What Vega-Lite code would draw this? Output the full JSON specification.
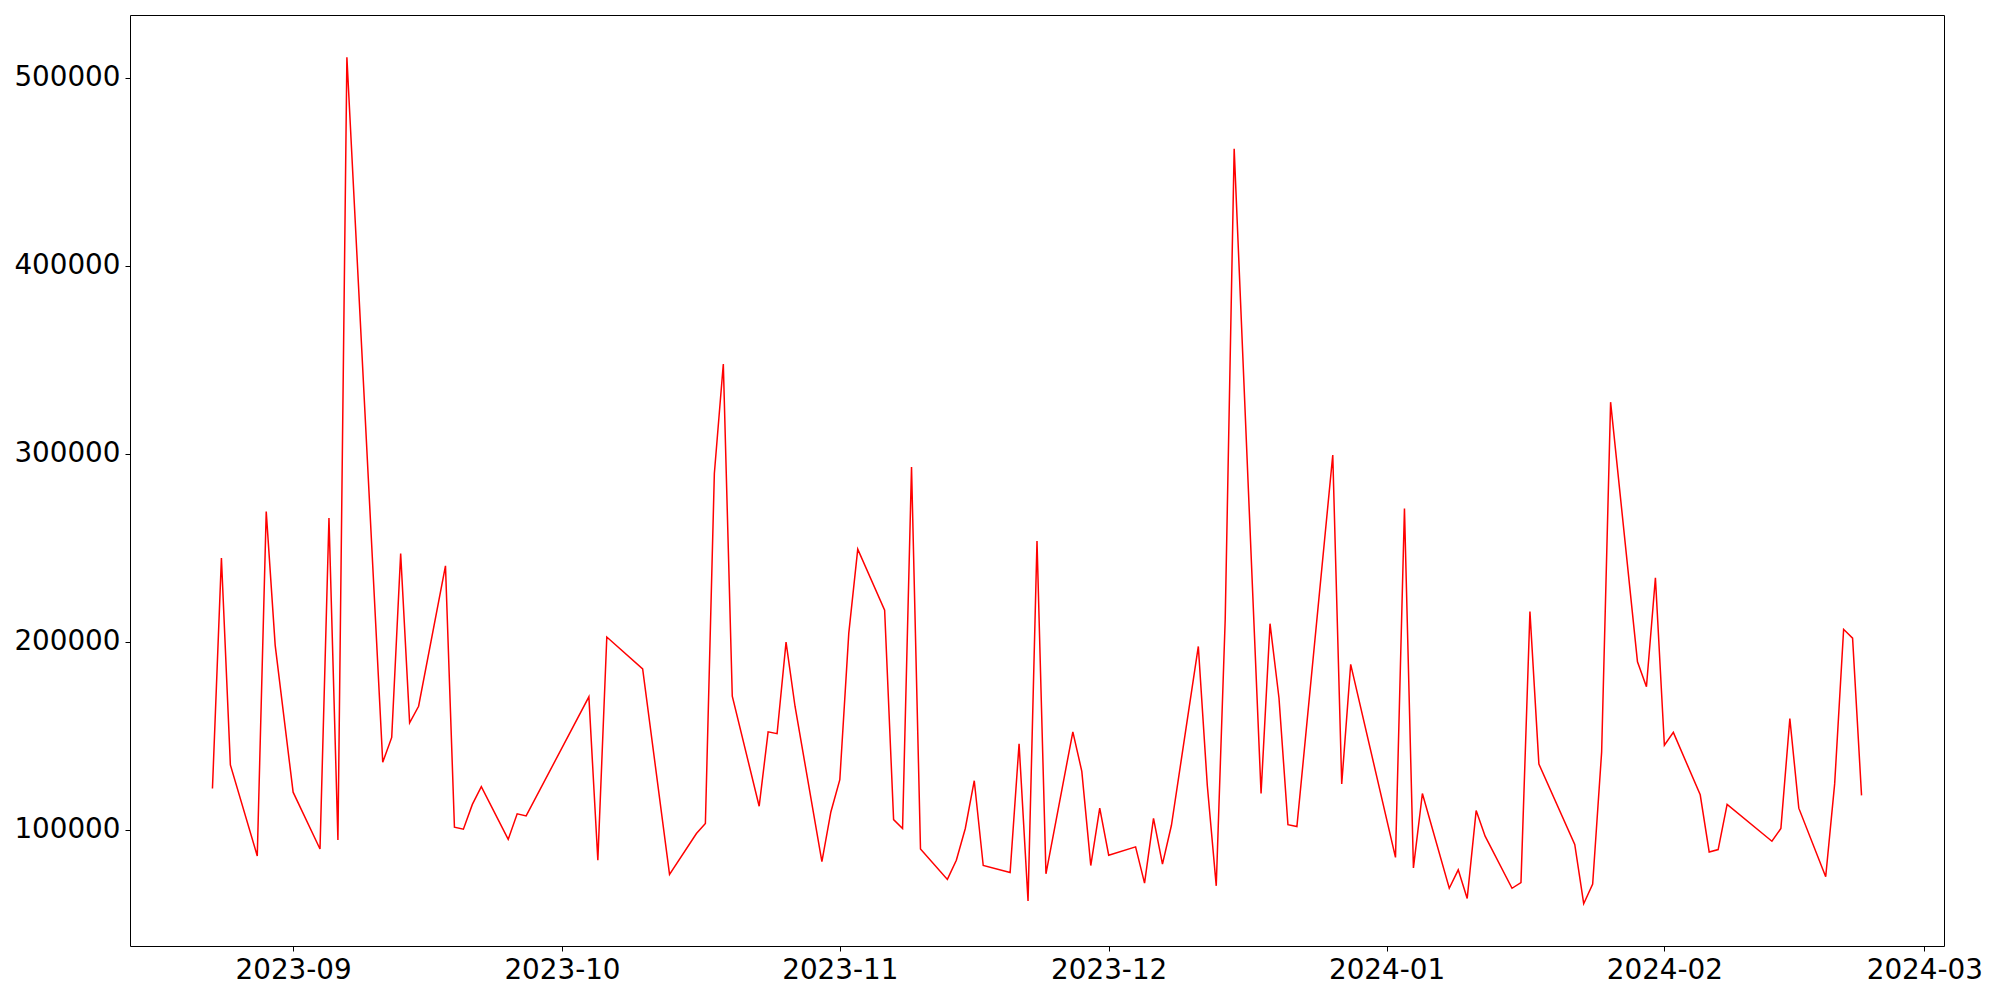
{
  "$schema": "https://vega.github.io/schema/vega-lite/v6.json",
  "autosize": {"type": "none"},
  "padding": {"left": 130, "top": 15, "right": 56, "bottom": 54},
  "width": 1814,
  "height": 931,
  "background": "white",
  "config": {
    "view": {"stroke": "black", "strokeWidth": 1},
    "font": "DejaVu Sans",
    "axis": {
      "grid": false,
      "domain": false,
      "tickColor": "black",
      "tickSize": 5,
      "tickWidth": 1,
      "labelColor": "black",
      "labelFont": "DejaVu Sans",
      "labelFontSize": 27.8,
      "labelPadding": 5,
      "title": null
    }
  },
  "data": {
    "values": [
      {"date": "2023-08-23", "value": 122000},
      {"date": "2023-08-24", "value": 244500},
      {"date": "2023-08-25", "value": 134500},
      {"date": "2023-08-28", "value": 86100},
      {"date": "2023-08-29", "value": 269200},
      {"date": "2023-08-30", "value": 198100},
      {"date": "2023-09-01", "value": 120000},
      {"date": "2023-09-04", "value": 89800},
      {"date": "2023-09-05", "value": 265800},
      {"date": "2023-09-06", "value": 94600},
      {"date": "2023-09-07", "value": 510800},
      {"date": "2023-09-11", "value": 135900},
      {"date": "2023-09-12", "value": 149100},
      {"date": "2023-09-13", "value": 246900},
      {"date": "2023-09-14", "value": 156900},
      {"date": "2023-09-15", "value": 165700},
      {"date": "2023-09-18", "value": 240400},
      {"date": "2023-09-19", "value": 101400},
      {"date": "2023-09-20", "value": 100300},
      {"date": "2023-09-21", "value": 113500},
      {"date": "2023-09-22", "value": 123000},
      {"date": "2023-09-25", "value": 94900},
      {"date": "2023-09-26", "value": 108500},
      {"date": "2023-09-27", "value": 107400},
      {"date": "2023-10-04", "value": 170700},
      {"date": "2023-10-05", "value": 83800},
      {"date": "2023-10-06", "value": 202500},
      {"date": "2023-10-10", "value": 185600},
      {"date": "2023-10-13", "value": 76300},
      {"date": "2023-10-16", "value": 98000},
      {"date": "2023-10-17", "value": 103400},
      {"date": "2023-10-18", "value": 289500},
      {"date": "2023-10-19", "value": 347700},
      {"date": "2023-10-20", "value": 171100},
      {"date": "2023-10-23", "value": 112500},
      {"date": "2023-10-24", "value": 152100},
      {"date": "2023-10-25", "value": 151100},
      {"date": "2023-10-26", "value": 199800},
      {"date": "2023-10-27", "value": 165700},
      {"date": "2023-10-30", "value": 83100},
      {"date": "2023-10-31", "value": 109500},
      {"date": "2023-11-01", "value": 126700},
      {"date": "2023-11-02", "value": 204600},
      {"date": "2023-11-03", "value": 249200},
      {"date": "2023-11-06", "value": 216800},
      {"date": "2023-11-07", "value": 105400},
      {"date": "2023-11-08", "value": 100700},
      {"date": "2023-11-09", "value": 292900},
      {"date": "2023-11-10", "value": 89800},
      {"date": "2023-11-13", "value": 73600},
      {"date": "2023-11-14", "value": 83800},
      {"date": "2023-11-15", "value": 100700},
      {"date": "2023-11-16", "value": 126100},
      {"date": "2023-11-17", "value": 81000},
      {"date": "2023-11-20", "value": 77300},
      {"date": "2023-11-21", "value": 145700},
      {"date": "2023-11-22", "value": 62100},
      {"date": "2023-11-23", "value": 253600},
      {"date": "2023-11-24", "value": 76600},
      {"date": "2023-11-27", "value": 152100},
      {"date": "2023-11-28", "value": 131100},
      {"date": "2023-11-29", "value": 81000},
      {"date": "2023-11-30", "value": 111500},
      {"date": "2023-12-01", "value": 86500},
      {"date": "2023-12-04", "value": 90900},
      {"date": "2023-12-05", "value": 71600},
      {"date": "2023-12-06", "value": 106100},
      {"date": "2023-12-07", "value": 81700},
      {"date": "2023-12-08", "value": 102400},
      {"date": "2023-12-11", "value": 197500},
      {"date": "2023-12-12", "value": 123700},
      {"date": "2023-12-13", "value": 70200},
      {"date": "2023-12-14", "value": 212000},
      {"date": "2023-12-15", "value": 462100},
      {"date": "2023-12-18", "value": 119300},
      {"date": "2023-12-19", "value": 209600},
      {"date": "2023-12-20", "value": 170100},
      {"date": "2023-12-21", "value": 102700},
      {"date": "2023-12-22", "value": 101700},
      {"date": "2023-12-26", "value": 299300},
      {"date": "2023-12-27", "value": 124400},
      {"date": "2023-12-28", "value": 188000},
      {"date": "2024-01-02", "value": 85300},
      {"date": "2024-01-03", "value": 270900},
      {"date": "2024-01-04", "value": 79700},
      {"date": "2024-01-05", "value": 119300},
      {"date": "2024-01-08", "value": 68900},
      {"date": "2024-01-09", "value": 78700},
      {"date": "2024-01-10", "value": 63500},
      {"date": "2024-01-11", "value": 110200},
      {"date": "2024-01-12", "value": 96600},
      {"date": "2024-01-15", "value": 68900},
      {"date": "2024-01-16", "value": 71900},
      {"date": "2024-01-17", "value": 216100},
      {"date": "2024-01-18", "value": 134900},
      {"date": "2024-01-22", "value": 92200},
      {"date": "2024-01-23", "value": 60700},
      {"date": "2024-01-24", "value": 71200},
      {"date": "2024-01-25", "value": 141300},
      {"date": "2024-01-26", "value": 327400},
      {"date": "2024-01-29", "value": 189300},
      {"date": "2024-01-30", "value": 176100},
      {"date": "2024-01-31", "value": 234000},
      {"date": "2024-02-01", "value": 145000},
      {"date": "2024-02-02", "value": 151800},
      {"date": "2024-02-05", "value": 118600},
      {"date": "2024-02-06", "value": 88200},
      {"date": "2024-02-07", "value": 89500},
      {"date": "2024-02-08", "value": 113500},
      {"date": "2024-02-13", "value": 93900},
      {"date": "2024-02-14", "value": 100700},
      {"date": "2024-02-15", "value": 159200},
      {"date": "2024-02-16", "value": 111500},
      {"date": "2024-02-19", "value": 75000},
      {"date": "2024-02-20", "value": 124400},
      {"date": "2024-02-21", "value": 206600},
      {"date": "2024-02-22", "value": 201900},
      {"date": "2024-02-23", "value": 118300}
    ]
  },
  "mark": {"type": "line", "color": "#ff0000", "strokeWidth": 1.5, "clip": true},
  "encoding": {
    "x": {
      "field": "date",
      "type": "temporal",
      "scale": {
        "type": "utc",
        "domain": [
          {"year": 2023, "month": 8, "date": 13, "hours": 19, "minutes": 12, "utc": true},
          {"year": 2024, "month": 3, "date": 3, "hours": 4, "minutes": 48, "utc": true}
        ]
      },
      "axis": {
        "labelExpr": "utcFormat(datum.value, '%Y-%m')",
        "labelAngle": 0,
        "labelFlush": false,
        "labelOverlap": false,
        "values": [
          {"year": 2023, "month": 9, "date": 1, "utc": true},
          {"year": 2023, "month": 10, "date": 1, "utc": true},
          {"year": 2023, "month": 11, "date": 1, "utc": true},
          {"year": 2023, "month": 12, "date": 1, "utc": true},
          {"year": 2024, "month": 1, "date": 1, "utc": true},
          {"year": 2024, "month": 2, "date": 1, "utc": true},
          {"year": 2024, "month": 3, "date": 1, "utc": true}
        ]
      }
    },
    "y": {
      "field": "value",
      "type": "quantitative",
      "scale": {"domain": [38200, 533300], "nice": false, "zero": false},
      "axis": {
        "values": [100000, 200000, 300000, 400000, 500000],
        "format": "d",
        "labelFlush": false,
        "labelOverlap": false
      }
    }
  }
}
